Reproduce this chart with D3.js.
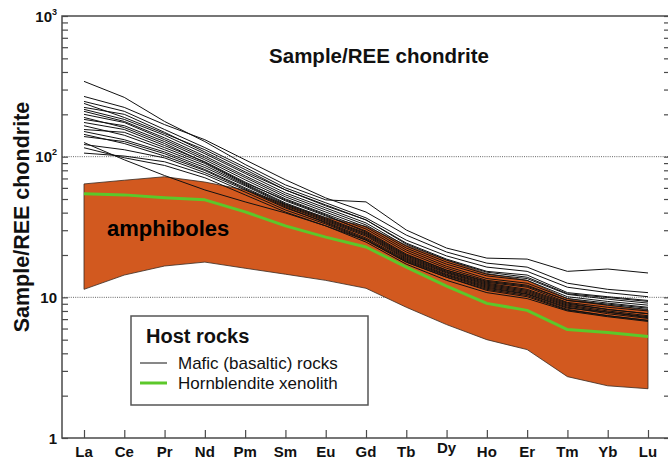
<!DOCTYPE html>
<html>
<head>
<meta charset="utf-8">
<script src="https://cdn.jsdelivr.net/npm/d3@7"></script>
<style>
  body { margin: 0; background: #fff; }
  svg { display: block; }
  text { font-family: "Liberation Sans", Arial, Helvetica, sans-serif; }
</style>
</head>
<body>
<svg id="chart" width="668" height="459"></svg>
<script>
// Rare earth elements, chondrite-normalised order
const elements = ["La","Ce","Pr","Nd","Pm","Sm","Eu","Gd","Tb","Dy","Ho","Er","Tm","Yb","Lu"];

// Mafic (basaltic) host rocks, one array per sample
const maficSamples = [
  [343,264,178,128,88,63,49.3,47.7,30.1,22.4,19.0,18.7,15.3,15.9,14.9],
  [268,224,169,132,95,68.5,50.9,40.4,27.7,21.0,17.5,16.4,12.6,11.4,10.8],
  [247,210,156,116,84,60,47,36.7,25.5,19.7,16.4,15.3,11.8,10.8,10.1],
  [224,200,149,108,78,58,44.7,35.5,24.3,18.7,15.3,14.4,10.8,10.1,9.5],
  [217,184,142,105,76,55.3,43.2,33.8,23.1,17.8,14.6,13.6,10.5,9.7,9.1],
  [210,178,136,101,73,53.5,41.8,32.7,22.4,17.2,14.2,13.2,10.1,9.35,8.8],
  [200,175,132,98,71,51.8,40.4,31.6,21.7,16.6,13.6,12.6,9.8,9.1,8.5],
  [184,166,128,95,68.5,50.1,39.1,30.6,21.0,16.1,13.2,12.2,9.5,8.8,8.2],
  [175,156,120,92,66,48.5,37.9,29.6,20.3,15.6,12.8,11.8,9.2,8.5,8.0],
  [156,149,116,89.5,64,46.9,36.7,28.6,19.7,15.3,12.6,11.4,9.1,8.2,7.65],
  [151,132,108,83.7,62,45.4,35.5,27.7,19.0,14.9,12.2,11.0,8.8,8.0,7.4],
  [139,128,105,81,60,44.7,34.9,27.2,18.7,14.6,12.0,10.8,8.66,7.84,7.16],
  [122,112,98,77,58,43.2,34.3,26.4,18.4,14.4,11.8,10.6,8.5,7.65,7.08],
  [106,101,92,74.6,56,41.8,33.2,25.5,17.8,13.9,11.4,10.3,8.2,7.4,6.85],
  [126,95,73.4,58,47.7,39.8,32.2,25.5,17.8,13.9,11.2,10.1,8.1,7.4,6.85],
  [115.7,98.2,86.6,70.8,53.5,40.4,32.2,24.7,17.2,13.2,10.8,9.8,8.0,7.28,6.74],
  [190,161,124,91,65,49.3,38.5,29.1,20,15.6,13.0,12.0,9.5,8.95,8.37],
  [144,124,101,79.7,59,43.9,33.8,25.9,18.1,14.2,11.6,10.5,8.37,7.84,7.28],
  [239,190,146,112,81,58,45.4,35.5,23.9,18.4,15.1,13.9,10.6,9.97,9.35],
  [166,142,112,86.6,63,46.2,36.1,28.2,19.35,15.1,12.4,11.2,8.95,8.2,7.65]
];

// Hornblendite xenolith
const hornblenditeXenolith = [54.4,53.5,51,49.3,40.5,32.2,26.8,22.8,16.4,12.0,9.06,8.08,5.9,5.62,5.27];

// Amphibole compositional field (upper and lower envelope)
const amphiboleMax = [64,68,72,66,58,46,37,32,23.5,18.4,14.8,13.2,9.8,8.8,8.1];
const amphiboleMin = [11.4,14.4,16.7,17.8,16.1,14.6,13.2,11.6,8.5,6.4,5.0,4.25,2.73,2.35,2.24];

// Axis ticks
const decadeTicks = [1, 10, 100, 1000];
const gridValues = [10, 100];

const svg = d3.select("#chart");
const plotLeft = 62, plotRight = 670, plotTop = 16, plotBottom = 438;

const x = d3.scalePoint().domain(elements).range([84, 648]);
const y = d3.scaleLog().domain([1, 1000]).range([plotBottom, plotTop]);

const frameColor = "#4a4a4a";

// dotted reference lines at 10 and 100
svg.append("g").selectAll("line").data(gridValues).join("line")
  .attr("x1", plotLeft).attr("x2", plotRight)
  .attr("y1", d => y(d)).attr("y2", d => y(d))
  .attr("stroke", "#666").attr("stroke-width", 1)
  .attr("stroke-dasharray", "1,1.2");

// amphibole field
const band = d3.area()
  .x((d, i) => x(elements[i]))
  .y0((d, i) => y(amphiboleMin[i]))
  .y1(d => y(d));
svg.append("path").datum(amphiboleMax)
  .attr("d", band)
  .attr("fill", "#d2591f")
  .attr("stroke", "#3a2a20").attr("stroke-width", 0.8)
  .attr("stroke-linejoin", "round");

const line = d3.line().x((d, i) => x(elements[i])).y(d => y(d));

// host rock patterns
svg.append("g").selectAll("path").data(maficSamples).join("path")
  .attr("d", line)
  .attr("fill", "none")
  .attr("stroke", "#111").attr("stroke-width", 1);

// hornblendite pattern
svg.append("path").datum(hornblenditeXenolith)
  .attr("d", line)
  .attr("fill", "none")
  .attr("stroke", "#5cc82a").attr("stroke-width", 3)
  .attr("stroke-linejoin", "round");

// field label
svg.append("text").attr("x", 107).attr("y", 236)
  .attr("font-size", 22).attr("font-weight", "bold").attr("fill", "#000")
  .text("amphiboles");

// log ticks, inward, on both sides
const allTicks = y.ticks();
const leftAxis = d3.axisLeft(y).tickValues(allTicks).tickSizeInner(-6).tickSizeOuter(0).tickFormat("");
const rightAxis = d3.axisRight(y).tickValues(allTicks).tickSizeInner(-6).tickSizeOuter(0).tickFormat("");
const gL = svg.append("g").attr("transform", `translate(${plotLeft},0)`).call(leftAxis);
const gR = svg.append("g").attr("transform", `translate(${plotRight},0)`).call(rightAxis);
[gL, gR].forEach(g => {
  g.select(".domain").remove();
  g.selectAll(".tick line").attr("stroke", frameColor).attr("stroke-width", 1.2);
});

// element ticks along the bottom
const bottomAxis = d3.axisBottom(x).tickSizeInner(-8).tickSizeOuter(0).tickFormat("");
const gB = svg.append("g").attr("transform", `translate(0,${plotBottom})`).call(bottomAxis);
gB.select(".domain").remove();
gB.selectAll(".tick line").attr("stroke", frameColor).attr("stroke-width", 1.2);

// element labels
svg.append("g").selectAll("text").data(elements).join("text")
  .attr("x", d => x(d))
  .attr("y", d => d === "Dy" ? 453 : 457)
  .attr("text-anchor", "middle")
  .attr("font-size", 15).attr("font-weight", "bold").attr("fill", "#111")
  .text(d => d);

// frame
svg.append("path")
  .attr("d", `M${plotRight},${plotTop}H${plotLeft}V${plotBottom}H${plotRight}`)
  .attr("fill", "none").attr("stroke", frameColor).attr("stroke-width", 1.5);

// decade labels
const yl = svg.append("g").selectAll("text").data(decadeTicks).join("text")
  .attr("x", 57).attr("y", d => y(d) + 5.5)
  .attr("text-anchor", "end")
  .attr("font-size", 15).attr("font-weight", "bold").attr("fill", "#111");
yl.each(function(d) {
  const e = Math.round(Math.log10(d));
  const t = d3.select(this);
  if (e < 2) { t.text(String(d)); return; }
  t.append("tspan").text("10");
  t.append("tspan").attr("font-size", 9).attr("dy", -7).text(String(e));
});

// axis title
svg.append("text")
  .attr("transform", "translate(29,217) rotate(-90)")
  .attr("text-anchor", "middle")
  .attr("font-size", 21.5).attr("font-weight", "bold").attr("fill", "#111")
  .text("Sample/REE chondrite");

// plot title
svg.append("text").attr("x", 379).attr("y", 63)
  .attr("text-anchor", "middle")
  .attr("font-size", 20.5).attr("font-weight", "bold").attr("fill", "#111")
  .text("Sample/REE chondrite");

// legend
const lg = svg.append("g");
lg.append("rect").attr("x", 131).attr("y", 316).attr("width", 237).attr("height", 89)
  .attr("fill", "#fff").attr("stroke", "#555").attr("stroke-width", 1.5);
lg.append("text").attr("x", 146).attr("y", 343)
  .attr("font-size", 20).attr("font-weight", "bold").attr("fill", "#111")
  .text("Host rocks");
const legendItems = [
  { label: "Mafic (basaltic) rocks", color: "#111", width: 1, y: 363 },
  { label: "Hornblendite xenolith", color: "#5cc82a", width: 3, y: 383 }
];
lg.selectAll("line").data(legendItems).join("line")
  .attr("x1", 140).attr("x2", 167)
  .attr("y1", d => d.y).attr("y2", d => d.y)
  .attr("stroke", d => d.color).attr("stroke-width", d => d.width);
lg.selectAll("text.item").data(legendItems).join("text")
  .attr("class", "item")
  .attr("x", 178).attr("y", d => d.y + 6)
  .attr("font-size", 17).attr("fill", "#111")
  .text(d => d.label);
</script>
</body>
</html>
